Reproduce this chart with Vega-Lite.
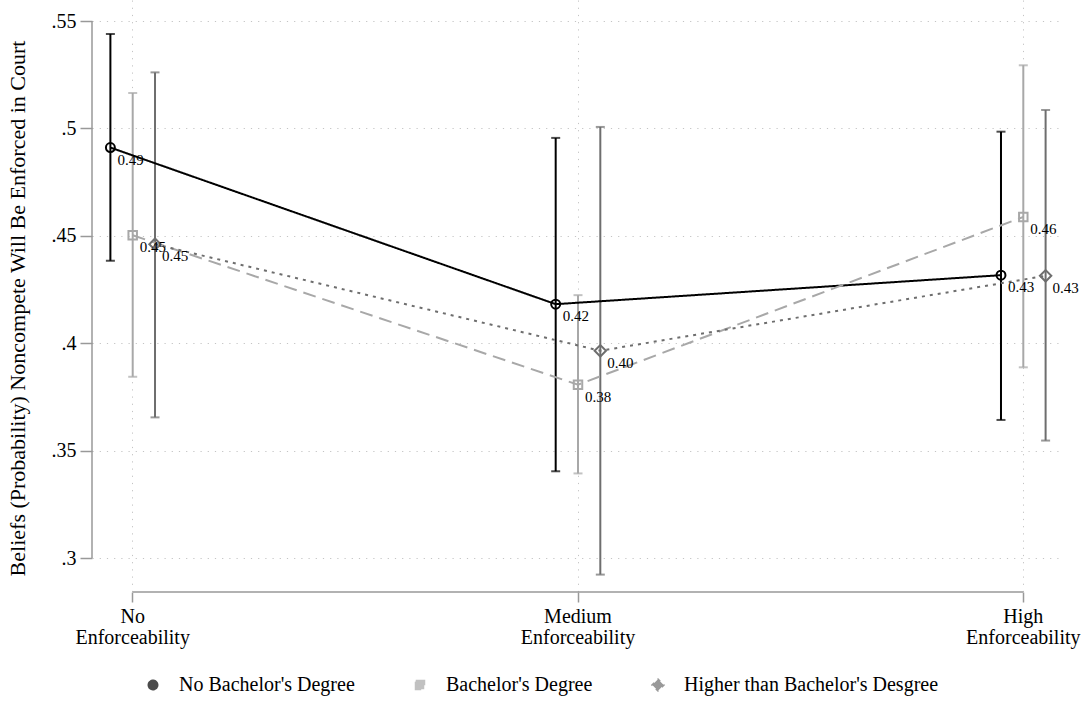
{
  "$schema": "https://vega.github.io/schema/vega-lite/v6.json",
  "width": 972,
  "height": 592,
  "autosize": {"type": "none"},
  "padding": {"left": 92, "top": 0, "right": 21, "bottom": 115},
  "background": "white",
  "config": {
    "font": "Liberation Serif",
    "view": {"stroke": null},
    "axis": {
      "labelFont": "Liberation Serif",
      "labelColor": "black",
      "titleFont": "Liberation Serif",
      "titleColor": "black",
      "titleFontWeight": "normal",
      "tickColor": "#999999",
      "tickWidth": 1.5,
      "gridColor": "#c4c4c4",
      "gridDash": [1.2, 6],
      "gridWidth": 1
    }
  },
  "data": {
    "values": [
      {"level": 1, "group": "No Bachelor's Degree", "mean": 0.4911, "lo": 0.4384, "hi": 0.5440},
      {"level": 2, "group": "No Bachelor's Degree", "mean": 0.4182, "lo": 0.3404, "hi": 0.4956},
      {"level": 3, "group": "No Bachelor's Degree", "mean": 0.4317, "lo": 0.3643, "hi": 0.4985},
      {"level": 1, "group": "Bachelor's Degree", "mean": 0.4503, "lo": 0.3844, "hi": 0.5165},
      {"level": 2, "group": "Bachelor's Degree", "mean": 0.3807, "lo": 0.3394, "hi": 0.4224},
      {"level": 3, "group": "Bachelor's Degree", "mean": 0.4588, "lo": 0.3888, "hi": 0.5294},
      {"level": 1, "group": "Higher than Bachelor's Desgree", "mean": 0.4461, "lo": 0.3655, "hi": 0.5261},
      {"level": 2, "group": "Higher than Bachelor's Desgree", "mean": 0.3965, "lo": 0.2923, "hi": 0.5007},
      {"level": 3, "group": "Higher than Bachelor's Desgree", "mean": 0.4314, "lo": 0.3547, "hi": 0.5086}
    ]
  },
  "resolve": {"scale": {"x": "independent"}},
  "layer": [
    {
      "layer": [
        {
          "mark": {"type": "rule", "strokeWidth": 2},
          "encoding": {
            "x": {
              "field": "level", "type": "ordinal",
              "scale": {"type": "band", "domain": [1, 2, 3], "paddingInner": 0.8998, "paddingOuter": 0.0413},
              "axis": {
                "title": null, "domain": false, "grid": true, "bandPosition": 0.5, "labelAngle": 0,
                "tickSize": 10, "labelPadding": 4, "labelFontSize": 20, "labelLineHeight": 21,
                "labelOverlap": false, "labelBaseline": "top",
                "labelExpr": "datum.value == 1 ? ['No', 'Enforceability'] : datum.value == 2 ? ['Medium', 'Enforceability'] : ['High', 'Enforceability']"
              }
            },
            "xOffset": {
              "field": "group", "type": "nominal",
              "scale": {"type": "point", "domain": ["No Bachelor's Degree", "Bachelor's Degree", "Higher than Bachelor's Desgree"], "padding": 0}
            },
            "y": {
              "field": "lo", "type": "quantitative",
              "scale": {"domain": [0.2842, 0.5598], "nice": false, "zero": false},
              "axis": {
                "values": [0.3, 0.35, 0.4, 0.45, 0.5, 0.55], "domain": false, "grid": true,
                "tickSize": 12, "labelPadding": 4, "labelFontSize": 20,
                "labelExpr": "substring(format(datum.value, '.2~f'), 1)",
                "title": "Beliefs (Probability) Noncompete Will Be Enforced in Court",
                "titleFontSize": 22, "titlePadding": 22, "titleY": 308
              }
            },
            "y2": {"field": "hi"},
            "color": {
              "field": "group", "type": "nominal",
              "scale": {"domain": ["No Bachelor's Degree", "Bachelor's Degree", "Higher than Bachelor's Desgree"], "range": ["#000000", "#a8a8a8", "#6e6e6e"]},
              "legend": {
                "title": null, "orient": "none", "legendX": 51, "legendY": 675,
                "direction": "horizontal", "columns": 3, "columnPadding": 55,
                "symbolStrokeWidth": 2, "symbolOpacity": 1,
                "labelFont": "Liberation Serif", "labelFontSize": 20, "labelColor": "black",
                "labelOffset": 16, "labelLimit": 500
              }
            }
          }
        },
        {
          "mark": {"type": "tick", "orient": "horizontal", "size": 9, "thickness": 2},
          "encoding": {
            "x": {"field": "level", "type": "ordinal"},
            "xOffset": {"field": "group", "type": "nominal"},
            "y": {"field": "lo", "type": "quantitative"},
            "color": {"field": "group", "type": "nominal"}
          }
        },
        {
          "mark": {"type": "tick", "orient": "horizontal", "size": 9, "thickness": 2},
          "encoding": {
            "x": {"field": "level", "type": "ordinal"},
            "xOffset": {"field": "group", "type": "nominal"},
            "y": {"field": "hi", "type": "quantitative"},
            "color": {"field": "group", "type": "nominal"}
          }
        },
        {
          "mark": {"type": "line", "strokeWidth": 2},
          "encoding": {
            "x": {"field": "level", "type": "ordinal"},
            "xOffset": {"field": "group", "type": "nominal"},
            "y": {"field": "mean", "type": "quantitative"},
            "color": {"field": "group", "type": "nominal"},
            "strokeDash": {
              "field": "group", "type": "nominal",
              "scale": {"domain": ["No Bachelor's Degree", "Bachelor's Degree", "Higher than Bachelor's Desgree"], "range": [[1, 0], [13, 7], [3, 5]]},
              "legend": null
            }
          }
        },
        {
          "mark": {"type": "point", "filled": false, "strokeWidth": 2, "opacity": 1},
          "encoding": {
            "x": {"field": "level", "type": "ordinal"},
            "xOffset": {"field": "group", "type": "nominal"},
            "y": {"field": "mean", "type": "quantitative"},
            "shape": {
              "field": "group", "type": "nominal",
              "scale": {"domain": ["No Bachelor's Degree", "Bachelor's Degree", "Higher than Bachelor's Desgree"], "range": ["circle", "square", "diamond"]},
              "legend": null
            },
            "size": {
              "field": "group", "type": "nominal",
              "scale": {"type": "ordinal", "domain": ["No Bachelor's Degree", "Bachelor's Degree", "Higher than Bachelor's Desgree"], "range": [80, 72, 130]},
              "legend": null
            },
            "color": {"field": "group", "type": "nominal"}
          }
        },
        {
          "mark": {"type": "text", "align": "left", "baseline": "middle", "dx": 7, "dy": 12, "fontSize": 15, "color": "black"},
          "encoding": {
            "x": {"field": "level", "type": "ordinal"},
            "xOffset": {"field": "group", "type": "nominal"},
            "y": {"field": "mean", "type": "quantitative"},
            "text": {"field": "mean", "type": "quantitative", "format": ".2f"}
          }
        }
      ]
    },
    {
      "data": {"values": [{}]},
      "layer": [
        {
          "mark": {"type": "rule", "color": "#999999", "strokeWidth": 1.5},
          "encoding": {
            "x": {"datum": 1, "type": "quantitative", "scale": {"domain": [0.9086, 3.0914], "nice": false, "zero": false}, "axis": null},
            "x2": {"datum": 3},
            "y": {"datum": 0.2842, "type": "quantitative"}
          }
        },
        {
          "mark": {"type": "rule", "color": "#999999", "strokeWidth": 1.5},
          "encoding": {
            "x": {"datum": 0.9086, "type": "quantitative", "axis": null},
            "y": {"datum": 0.3, "type": "quantitative"},
            "y2": {"datum": 0.55}
          }
        }
      ]
    }
  ]
}
